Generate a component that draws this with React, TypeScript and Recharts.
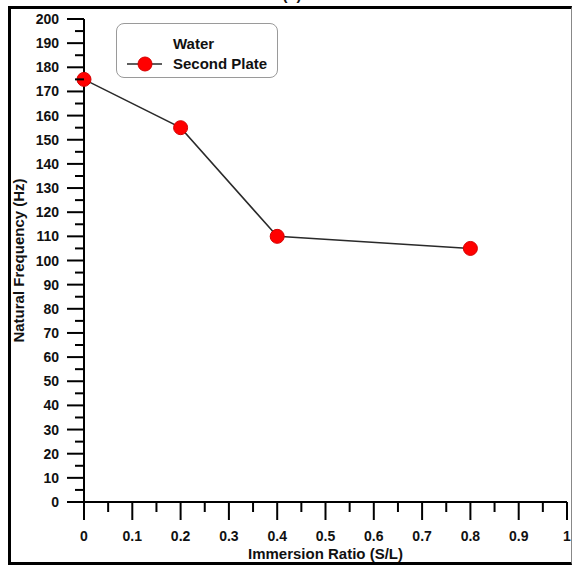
import React from "react";
import { LineChart, Line, XAxis, YAxis, Legend } from "recharts";

// immersion ratio (S/L) vs natural frequency of the second plate in water
const ratios = [0, 0.2, 0.4, 0.8];
const frequencies = [175, 155, 110, 105];

const xTicks = [0, 0.05, 0.1, 0.15, 0.2, 0.25, 0.3, 0.35, 0.4, 0.45, 0.5, 0.55, 0.6, 0.65, 0.7, 0.75, 0.8, 0.85, 0.9, 0.95, 1];
const xLabels = ["0", "0.1", "0.2", "0.3", "0.4", "0.5", "0.6", "0.7", "0.8", "0.9", "1"];
const yTicks = [
  0, 5, 10, 15, 20, 25, 30, 35, 40, 45, 50, 55, 60, 65, 70, 75, 80, 85, 90, 95, 100,
  105, 110, 115, 120, 125, 130, 135, 140, 145, 150, 155, 160, 165, 170, 175, 180, 185, 190, 195, 200,
];

const data = ratios.map((r, i) => ({ ratio: r, freq: frequencies[i] }));

const FONT = "'Liberation Sans', Arial, sans-serif";

function XTick(props: any) {
  const { x, y, payload } = props;
  const major = Math.round(payload.value * 100) % 10 === 0;
  const label = xLabels[Math.round(payload.value * 10)];
  return (
    <g>
      <line x1={x} x2={x} y1={y} y2={y + (major ? 18 : 10)} stroke="#000" strokeWidth={2} />
      {major && (
        <text x={x} y={y + 39} textAnchor="middle" fontFamily={FONT} fontWeight="bold" fontSize={14} fill="#111">
          {label}
        </text>
      )}
    </g>
  );
}

function YTick(props: any) {
  const { x, y, payload } = props;
  const major = payload.value % 10 === 0;
  return (
    <g>
      <line x1={x - (major ? 17 : 9)} x2={x} y1={y} y2={y} stroke="#000" strokeWidth={2} />
      {major && (
        <text x={x - 25} y={y + 5} textAnchor="end" fontFamily={FONT} fontWeight="bold" fontSize={14} fill="#111">
          {payload.value}
        </text>
      )}
    </g>
  );
}

function LegendBox() {
  return (
    <div
      style={{
        width: 162,
        height: 55,
        boxSizing: "border-box",
        border: "1.5px solid #9a9a9a",
        borderRadius: 8,
        position: "relative",
        fontFamily: FONT,
        fontWeight: "bold",
        fontSize: 15,
        color: "#111",
      }}
    >
      <div style={{ position: "absolute", left: 56, top: 11, lineHeight: "17px" }}>Water</div>
      <svg width={40} height={20} style={{ position: "absolute", left: 9, top: 30 }}>
        <line x1={1} x2={36} y1={10} y2={10} stroke="#2a2a2a" strokeWidth={1.5} />
        <circle cx={19} cy={10} r={7} fill="#f00" stroke="#d40000" strokeWidth={1} />
      </svg>
      <div style={{ position: "absolute", left: 56, top: 31, lineHeight: "17px" }}>Second Plate</div>
    </div>
  );
}

export default function App() {
  return (
    <div style={{ position: "fixed", left: 0, top: 0, width: 573, height: 567, background: "#fff", overflow: "hidden" }}>
      <div
        style={{
          position: "absolute",
          left: 8,
          top: 6,
          width: 564,
          height: 559,
          boxSizing: "border-box",
          borderTop: "3px solid #000",
          borderLeft: "3px solid #000",
          borderBottom: "3px solid #000",
          borderRight: "1px solid #888",
        }}
      />
      <div style={{ position: "absolute", left: 0, top: 0 }}>
        <LineChart width={573} height={567} data={data} margin={{ top: 19, right: 6, bottom: 0, left: 0 }}>
          <XAxis
            dataKey="ratio"
            type="number"
            domain={[0, 1]}
            ticks={xTicks}
            interval={0}
            height={65}
            tickSize={0}
            tickMargin={0}
            tickLine={false}
            axisLine={{ stroke: "#000", strokeWidth: 2 }}
            tick={<XTick />}
            label={{
              content: (p: any) => {
                const vb = p.viewBox;
                return (
                  <text x={vb.x + vb.width / 2} y={vb.y + 57} textAnchor="middle" fontFamily={FONT} fontWeight="bold" fontSize={15} fill="#111">
                    Immersion Ratio (S/L)
                  </text>
                );
              },
            }}
          />
          <YAxis
            type="number"
            domain={[0, 200]}
            ticks={yTicks}
            interval={0}
            width={84}
            tickSize={0}
            tickMargin={0}
            tickLine={false}
            axisLine={{ stroke: "#000", strokeWidth: 2 }}
            tick={<YTick />}
            label={{
              content: (p: any) => {
                const vb = p.viewBox;
                const cx = 24;
                const cy = vb.y + vb.height / 2;
                return (
                  <text x={cx} y={cy} transform={`rotate(-90, ${cx}, ${cy})`} textAnchor="middle" fontFamily={FONT} fontWeight="bold" fontSize={15} fill="#111">
                    Natural Frequency (Hz)
                  </text>
                );
              },
            }}
          />
          <Legend
            layout="horizontal"
            verticalAlign="middle"
            align="center"
            wrapperStyle={{ left: 116, top: 23, width: 162, height: 55 }}
            content={() => <LegendBox />}
          />
          <Line
            dataKey="freq"
            name="Second Plate"
            stroke="#2a2a2a"
            strokeWidth={1.5}
            dot={{ r: 7, fill: "#f00", stroke: "#d40000", strokeWidth: 1 }}
            activeDot={false}
            isAnimationActive={false}
          />
          <text x={292} y={0} textAnchor="middle" fontFamily={FONT} fontWeight="bold" fontSize={15} fill="#111">
            (b)
          </text>
        </LineChart>
      </div>
    </div>
  );
}
